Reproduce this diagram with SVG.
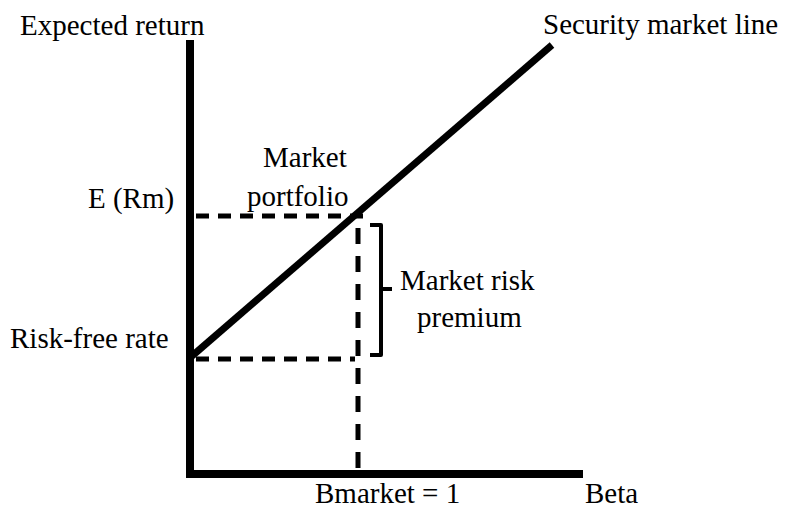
<svg xmlns="http://www.w3.org/2000/svg" width="795" height="510" viewBox="0 0 795 510">
  <style>
    text { font-family: "Liberation Serif", "Times New Roman", serif; font-size: 29px; fill: #000; }
    .axis { stroke: #000; stroke-width: 8; fill: none; }
    .sml { stroke: #000; stroke-width: 7; fill: none; }
    .guide-h { stroke: #000; stroke-width: 5; stroke-dasharray: 13 9; fill: none; }
    .guide-v { stroke: #000; stroke-width: 5; stroke-dasharray: 16 12; fill: none; }
    .brace { stroke: #000; stroke-width: 4; fill: none; stroke-linejoin: round; }
  </style>
  <rect width="795" height="510" fill="#fff"/>

  <!-- axes with their titles -->
  <g id="axes">
    <path class="axis" d="M190,40 V474 H583"/>
    <text x="20" y="35">Expected return</text>
    <text x="585" y="503">Beta</text>
  </g>

  <!-- dashed guide lines from the market portfolio point -->
  <g id="connectors">
    <path class="guide-h" d="M196,216 H363"/>
    <path class="guide-h" d="M196,359 H355"/>
    <path class="guide-v" d="M358,228 V470"/>
  </g>

  <g id="security-market-line">
    <path class="sml" d="M192,356 L552,45"/>
    <text x="543" y="34">Security market line</text>
  </g>

  <g id="market-portfolio">
    <text x="263" y="167">Market</text>
    <text x="247" y="206">portfolio</text>
  </g>

  <g id="expected-market-return">
    <text x="88" y="208">E (Rm)</text>
  </g>

  <g id="risk-free-rate">
    <text x="10" y="348">Risk-free rate</text>
  </g>

  <g id="market-risk-premium">
    <path class="brace" d="M370,225 H381 V355 H370 M381,289 H392"/>
    <text x="400" y="290">Market risk</text>
    <text x="417" y="327">premium</text>
  </g>

  <g id="beta-market">
    <text x="315" y="503">Bmarket = 1</text>
  </g>
</svg>
